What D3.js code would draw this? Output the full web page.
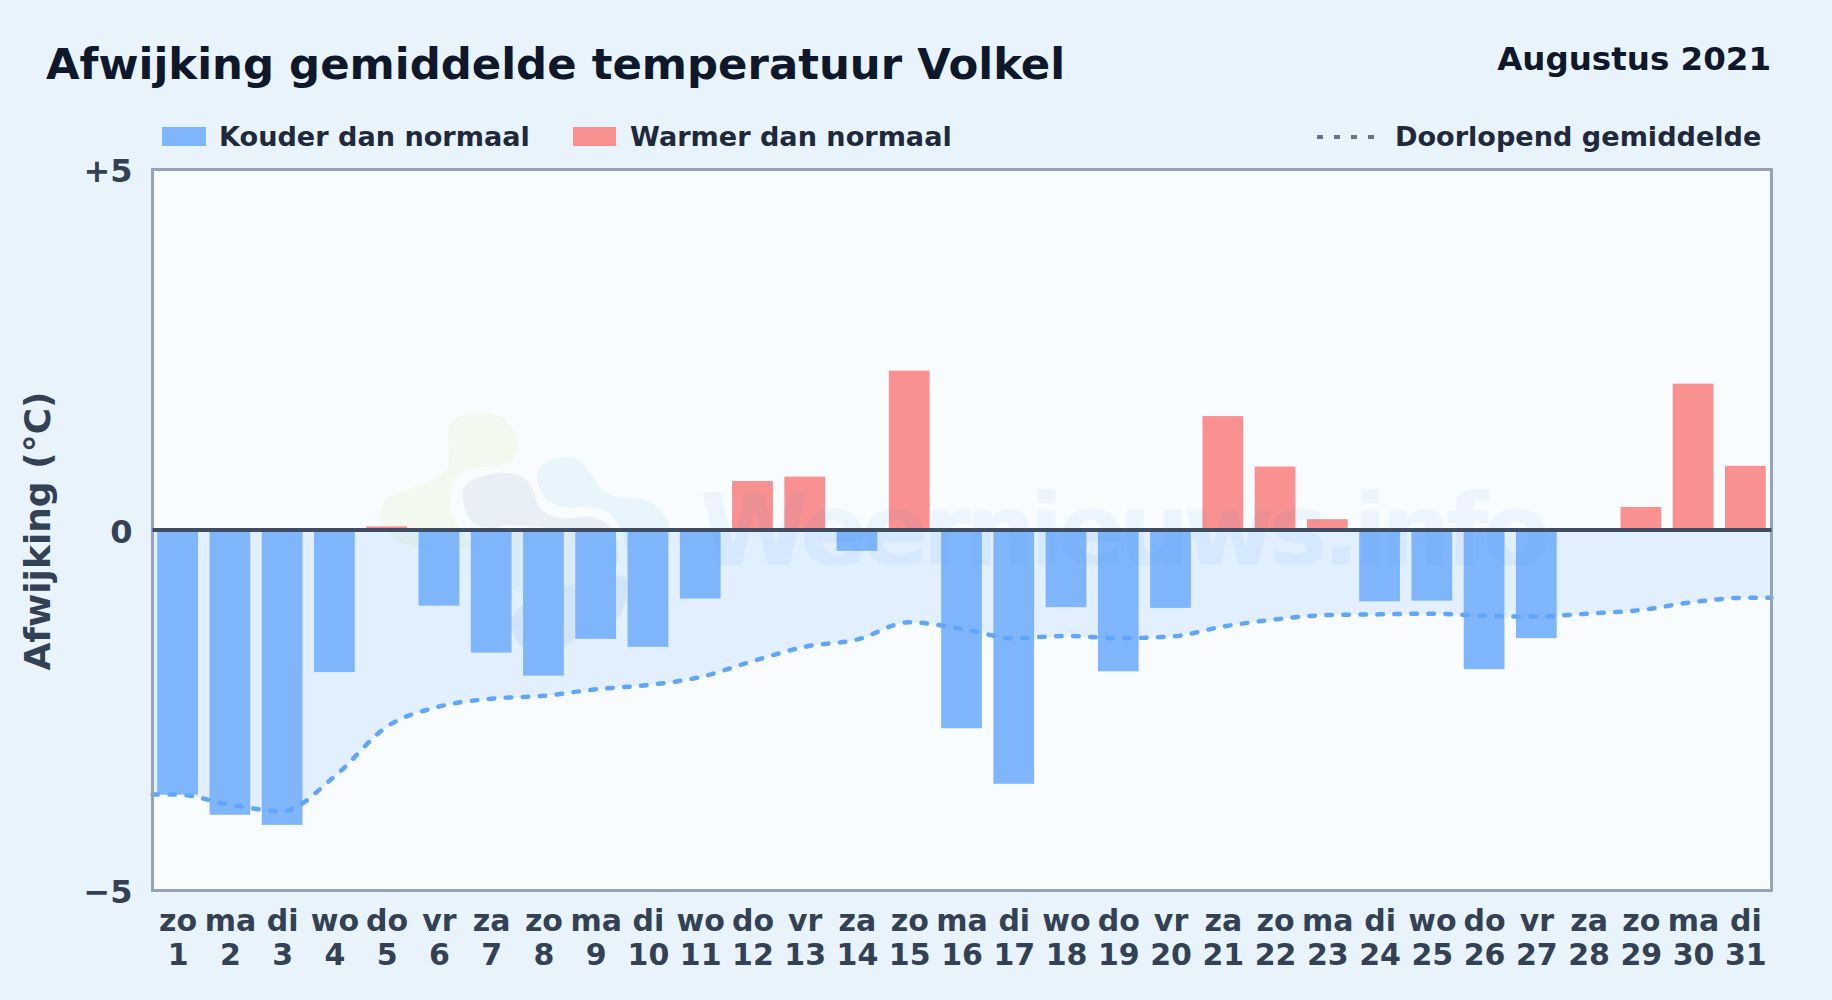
<!DOCTYPE html>
<html lang="nl">
<head>
<meta charset="utf-8">
<title>Afwijking gemiddelde temperatuur Volkel</title>
<script src="https://cdn.jsdelivr.net/npm/d3@7"></script>
<style>
  html, body { margin: 0; padding: 0; background: #e8f3fc; }
  svg { display: block; font-family: "DejaVu Sans", sans-serif; font-weight: bold; }
</style>
</head>
<body>
<div class="chart"></div>
<script>
// data
const days = d3.range(1, 32)
const weekdays = ['zo','ma','di','wo','do','vr','za','zo','ma','di','wo','do','vr','za','zo','ma','di','wo','do','vr','za','zo','ma','di','wo','do','vr','za','zo','ma','di']
const deviation = [-3.67,-3.95,-4.09,-1.97,0.05,-1.05,-1.70,-2.02,-1.51,-1.62,-0.95,0.68,0.74,-0.29,2.21,-2.75,-3.52,-1.07,-1.96,-1.08,1.58,0.88,0.15,-0.99,-0.98,-1.93,-1.50,0,0.32,2.03,0.89]
const runningMean = [-3.67,-3.81,-3.90,-3.42,-2.73,-2.45,-2.34,-2.30,-2.21,-2.15,-2.04,-1.82,-1.62,-1.52,-1.28,-1.37,-1.50,-1.47,-1.50,-1.48,-1.34,-1.24,-1.18,-1.17,-1.16,-1.19,-1.20,-1.16,-1.11,-1.00,-0.94]
const yTicks = [-5, 0, 5]
const yLabels = ['\u22125', '0', '+5']

const width = 1832, height = 1000
const plot = {left: 152.5, right: 1771.5, top: 169.5, bottom: 890.5}

const svg = d3.select('.chart').append('svg')
  .attr('width', width)
  .attr('height', height)

const x = d3.scaleBand().domain(days).range([plot.left - 1, plot.right]).paddingInner(0.22).paddingOuter(0.11)
const y = d3.scaleLinear().domain([-5, 5]).range([plot.bottom, plot.top])
const xCenter = d => x(d) + x.bandwidth() / 2

// achtergrond plot
svg.append('rect')
  .attr('x', plot.left).attr('y', plot.top)
  .attr('width', plot.right - plot.left).attr('height', plot.bottom - plot.top)
  .attr('fill', '#f8fcff')

// lijn loopt door tot aan de randen van de plot
const linePoints = [[plot.left, runningMean[0]]]
  .concat(days.map((d, i) => [xCenter(d), runningMean[i]]))
  .concat([[plot.right, runningMean[runningMean.length - 1]]])

// logo watermerk, vage vlakken achter de staven
const logoShapes = [
  ['#f3f9ee', 'M448,433 C448,418 465,413 483,413 C505,413 518,430 518,447 C518,458 510,462 503,464 C485,468 465,467 455,478 C449,487 449,498 451,510 C453,520 456,525 462,531 L472,548 L427,548 C407,547 387,540 380,517 C380,505 383,497 407,489 C420,486 433,482 447,470 C450,462 448,450 448,433 Z'],
  ['#e9f5fd', 'M537,477 C537,465 550,457 567,457 C580,457 590,470 596,482 C603,493 613,498 630,498 C650,498 668,510 670,530 C670,548 660,565 627,570 C628,555 626,538 617,522 C610,510 595,505 580,507 C565,510 550,505 543,495 C540,490 537,485 537,477 Z'],
  ['#f0f7f5', 'M507,530 L575,530 L575,595 L540,600 L510,590 Z'],
  ['#e8eff7', 'M463,490 C465,480 485,473 507,473 C525,473 533,485 537,503 C543,515 555,520 573,518 C590,514 605,518 612,530 C618,540 620,555 617,565 C610,572 595,573 580,575 L575,530 L507,525 C495,528 485,530 473,523 C465,515 462,503 463,490 Z'],
  ['#e6eef8', 'M512,625 C512,605 530,598 575,583 C590,575 610,572 626,578 C630,595 625,620 600,630 C585,632 578,635 572,640 C560,655 530,655 520,645 C514,638 512,632 512,625 Z']
]

svg.append('g').selectAll('path')
  .data(logoShapes)
  .join('path')
  .attr('fill', d => d[0])
  .attr('d', d => d[1])

// vlak tussen nul en doorlopend gemiddelde
const area = d3.area()
  .x(d => d[0])
  .y0(y(0))
  .y1(d => y(d[1]))
  .curve(d3.curveMonotoneX)

svg.append('path')
  .datum(linePoints)
  .attr('d', area)
  .attr('fill', 'rgba(96,165,250,0.15)')

// staven
svg.append('g').selectAll('rect')
  .data(days)
  .join('rect')
  .attr('x', d => x(d))
  .attr('y', (d, i) => y(Math.max(deviation[i], 0)))
  .attr('width', x.bandwidth())
  .attr('height', (d, i) => Math.abs(y(deviation[i]) - y(0)))
  .attr('fill', (d, i) => deviation[i] < 0 ? '#7fb6fb' : '#f99191')

// watermerk tekst ligt over de staven
svg.append('text')
  .attr('x', 1122)
  .attr('y', 565)
  .attr('text-anchor', 'middle')
  .attr('font-size', 100)
  .attr('letter-spacing', -6.6)
  .attr('fill', '#3b82f6')
  .attr('fill-opacity', 0.06)
  .text('Weernieuws.info')

// doorlopend gemiddelde
const line = d3.line()
  .x(d => d[0])
  .y(d => y(d[1]))
  .curve(d3.curveMonotoneX)

svg.append('path')
  .datum(linePoints)
  .attr('d', line)
  .attr('fill', 'none')
  .attr('stroke', '#60a5fa')
  .attr('stroke-width', 4.5)
  .attr('stroke-linecap', 'round')
  .attr('stroke-dasharray', '5.5 11.5')

// kader en nullijn
svg.append('rect')
  .attr('x', plot.left).attr('y', plot.top)
  .attr('width', plot.right - plot.left).attr('height', plot.bottom - plot.top)
  .attr('fill', 'none')
  .attr('stroke', '#94a3b8')
  .attr('stroke-width', 3)

svg.append('line')
  .attr('x1', plot.left).attr('x2', plot.right)
  .attr('y1', y(0)).attr('y2', y(0))
  .attr('stroke', '#3f4d63')
  .attr('stroke-width', 4)

// assen
const yAxis = d3.axisLeft(y)
  .tickValues(yTicks)
  .tickFormat((d, i) => yLabels[i])
  .tickSize(0)
  .tickPadding(20)

const yAxisGroup = svg.append('g')
  .attr('transform', `translate(${plot.left},0)`)
  .call(yAxis)
yAxisGroup.select('.domain').remove()
yAxisGroup.selectAll('text')
  .attr('y', 2)
  .attr('font-family', '"DejaVu Sans", sans-serif')
  .attr('font-weight', 'bold')
  .attr('font-size', 32)
  .attr('fill', '#334155')

const xAxis = d3.axisBottom(x).tickSize(0).tickFormat('')
const xAxisGroup = svg.append('g')
  .attr('transform', `translate(0.5,${plot.bottom})`)
  .call(xAxis)
xAxisGroup.select('.domain').remove()
xAxisGroup.selectAll('.tick text').each(function(d, i) {
  const t = d3.select(this)
    .attr('y', 0).attr('dy', null)
    .attr('font-family', '"DejaVu Sans", sans-serif')
    .attr('font-weight', 'bold')
    .attr('font-size', 30)
    .attr('fill', '#334155')
  t.append('tspan').attr('x', 0).attr('y', 40).text(weekdays[i])
  t.append('tspan').attr('x', 0).attr('y', 74.5).text(d)
})

svg.append('text')
  .attr('transform', 'translate(50,531) rotate(-90)')
  .attr('text-anchor', 'middle')
  .attr('font-size', 36)
  .attr('fill', '#334155')
  .text('Afwijking (°C)')

// titels
svg.append('text')
  .attr('x', 46).attr('y', 79)
  .attr('font-size', 43.4)
  .attr('fill', '#0f172a')
  .text('Afwijking gemiddelde temperatuur Volkel')

svg.append('text')
  .attr('x', 1771).attr('y', 70)
  .attr('text-anchor', 'end')
  .attr('font-size', 32.5)
  .attr('fill', '#0f172a')
  .text('Augustus 2021')

// legenda
const legend = svg.append('g').attr('font-size', 27.1).attr('fill', '#1e293b')
legend.append('rect').attr('x', 162).attr('y', 127).attr('width', 44).attr('height', 19).attr('fill', '#7fb6fb')
legend.append('text').attr('x', 219).attr('y', 146).text('Kouder dan normaal')
legend.append('rect').attr('x', 573).attr('y', 127).attr('width', 43).attr('height', 19).attr('fill', '#f99191')
legend.append('text').attr('x', 630).attr('y', 146).text('Warmer dan normaal')
legend.append('line')
  .attr('x1', 1317).attr('x2', 1376).attr('y1', 137).attr('y2', 137)
  .attr('stroke', '#64748b').attr('stroke-width', 4).attr('stroke-dasharray', '6 11')
legend.append('text').attr('x', 1395).attr('y', 146).text('Doorlopend gemiddelde')
</script>
</body>
</html>
